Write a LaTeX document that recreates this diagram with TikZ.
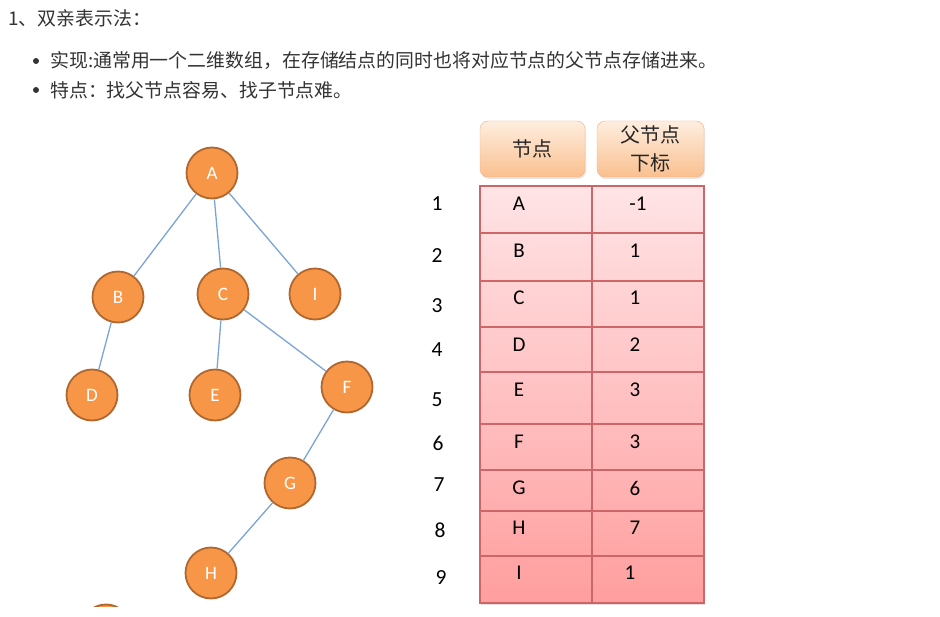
\documentclass[tikz,border=0pt]{standalone}
\usepackage{fontspec}
\setmainfont{Carlito}
\newfontfamily\cjk{Noto Sans CJK SC}
\usetikzlibrary{positioning,shadows}
\definecolor{textgray}{HTML}{333333}
\definecolor{nodefill}{HTML}{F79646}
\definecolor{nodeline}{HTML}{B0672F}
\definecolor{edgeblue}{HTML}{7BA3D6}
\definecolor{headtop}{HTML}{FEEEDF}
\definecolor{headbot}{HTML}{FAC08F}
\definecolor{headline}{HTML}{F4B183}
\definecolor{celltop}{HTML}{FFE4E6}
\definecolor{cellbot}{HTML}{FF9E9E}
\definecolor{cellline}{HTML}{CC6669}

\begin{document}
\begin{tikzpicture}[x=1pt,y=-1pt,
  treenode/.style={circle,draw=nodeline,line width=1.8pt,fill=nodefill,minimum size=51pt,inner sep=0pt,text=white,font=\fontsize{19}{19}\selectfont},
  treeedge/.style={edgeblue,line width=1.3pt},
  headbox/.style={draw=headline,rounded corners=8pt,top color=headtop,bottom color=headbot,minimum width=105pt,minimum height=56pt,align=center,inner sep=0pt,text=black!85,font=\cjk\fontsize{20}{28}\selectfont,drop shadow={opacity=.2,shadow xshift=1pt,shadow yshift=-2pt}},
  celltext/.style={inner sep=0pt,font=\fontsize{21}{21}\selectfont},
  rowno/.style={inner sep=0pt,font=\fontsize{21.5}{21.5}\selectfont},
  linetext/.style={anchor=west,inner sep=0pt,text=textgray,font=\cjk\fontsize{18.9}{18.9}\selectfont}]
% parent-array view of a tree: drawing on the left, array on the right
\useasboundingbox (0,0) rectangle (940,617);
\node[linetext] (title) at (8,18) {1、双亲表示法：};
\node[circle,fill=textgray,inner sep=0pt,minimum size=6pt] (dot1) at (36,61) {};
\node[linetext] (impl) at (50,61) {实现:通常用一个二维数组，在存储结点的同时也将对应节点的父节点存储进来。};
\node[circle,fill=textgray,inner sep=0pt,minimum size=6pt] (dot2) at (36,90) {};
\node[linetext] (feat) at (50,90) {特点：找父节点容易、找子节点难。};

\node[treenode] (A) at (212,173) {A};
\node[treenode] (B) at (118,297) {B};
\node[treenode] (C) at (223,294) {C};
\node[treenode] (I) at (315,294) {I};
\node[treenode] (D) at (92,395) {D};
\node[treenode] (E) at (215,395) {E};
\node[treenode] (F) at (347,387) {F};
\node[treenode] (G) at (290,483) {G};
\node[treenode] (H) at (211,573) {H};
\foreach \a/\b in {A/B,A/C,A/I,B/D,C/E,C/F,F/G,G/H}
  \draw[treeedge] (\a) -- (\b);
\begin{scope}
  \clip (60,590) rectangle (160,606);
  \fill[nodefill,draw=nodeline,line width=1.8pt] (106,630) circle (25.5);
\end{scope}

\node[headbox] (hnode) at (532.5,149) {节点};
\node[headbox,minimum width=107pt] (hpar) at (650.5,149) {父节点\\下标};

\shade[top color=celltop,bottom color=cellbot,drop shadow={opacity=.25,shadow xshift=1pt,shadow yshift=-1.5pt}] (480,186) rectangle (704,603);
\foreach \yl in {233,281,327,372,424,470,511,556}
  \draw[cellline,line width=1.2pt] (480,\yl) -- (704,\yl);
\draw[cellline,line width=1.2pt] (592,186) -- (592,603);
\draw[cellline,line width=1.2pt] (480,186) rectangle (704,603);
\foreach \k/\nm/\pidx/\ty/\px/\nx/\ny in {1/A/-1/204/638/437/204,2/B/1/251/635/437/256,3/C/1/298/635/437/306,4/D/2/345/635/437/350,5/E/3/390/635/437/400,6/F/3/442/635/438/443,7/G/6/488/635/439/485,8/H/7/528/635/440/530,9/I/1/573/630/441/578} {
  \node[rowno] (no\k) at (\nx,\ny) {\k};
  \node[celltext] (name\k) at (519,\ty) {\nm};
  \node[celltext] (par\k) at (\px,\ty) {\pidx};
}
\end{tikzpicture}
\end{document}
